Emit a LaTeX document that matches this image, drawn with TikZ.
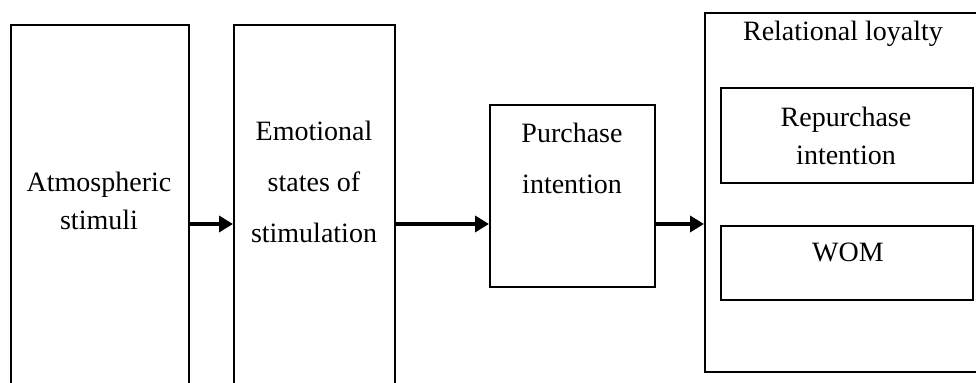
\documentclass[tikz,border=0pt]{standalone}
\usepackage{fontspec}
\setmainfont{Liberation Serif}
\usetikzlibrary{fit,arrows.meta}
\begin{document}
\begin{tikzpicture}[x=0.5pt,y=-0.5pt,
    box/.style={draw,line width=1pt,inner sep=0pt},
    lbl/.style={align=center,font=\fontsize{14}{19}\selectfont},
    wide/.style={align=center,font=\fontsize{14}{25.5}\selectfont},
    flow/.style={line width=2pt,-{Triangle[length=7pt,width=8pt]}}]
    \useasboundingbox (0,0) rectangle (976,383);
    \clip (0,0) rectangle (976,383);
    \node[box,fit={(11,25) (189,400)}] (atmos) {};
    \node[box,fit={(234,25) (395,400)}] (emo) {};
    \node[box,fit={(490,105) (655,287)}] (purch) {};
    \node[box,fit={(705,13) (990,372)}] (loyal) {};
    \node[box,fit={(721,88) (973,183)}] (repur) {};
    \node[box,fit={(721,226) (973,300)}] (wom) {};
    \node[lbl] (atmostxt) at (99,201) {Atmospheric\\stimuli};
    \node[wide] (emotxt) at (314,182) {Emotional\\states of\\stimulation};
    \node[wide] (purchtxt) at (572,158) {Purchase\\intention};
    \node[lbl] (loyaltxt) at (843,34) {Relational loyalty};
    \node[lbl] (repurtxt) at (846,136) {Repurchase\\intention};
    \node[lbl] (womtxt) at (848,252) {WOM};
    \coordinate (row) at (0,224);
    \draw[flow] (atmos.east |- row) -- (emo.west |- row);
    \draw[flow] (emo.east |- row) -- (purch.west |- row);
    \draw[flow] (purch.east |- row) -- (loyal.west |- row);
  \end{tikzpicture}
\end{document}
